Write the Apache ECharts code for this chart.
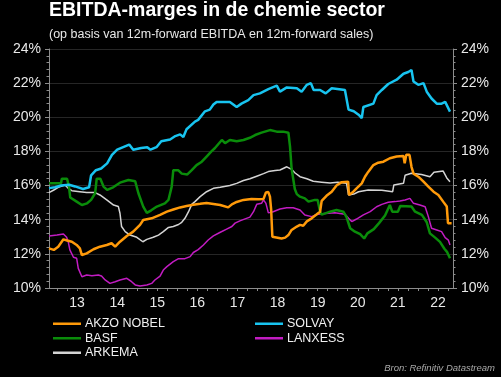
<!DOCTYPE html>
<html><head><meta charset="utf-8">
<script src="https://cdn.jsdelivr.net/npm/echarts@6/dist/echarts.min.js"></script>
<style>html,body{margin:0;padding:0;background:#000;}#c{width:501px;height:377px;}</style>
</head><body><div id="c"></div>
<script>
const yearLabels = ['13','14','15','16','17','18','19','20','21','22'];
const yTicks = [10,12,14,16,18,20,22,24];

const akzo = [[2012.80,12.32],[2012.92,12.23],[2013.03,12.42],[2013.16,12.85],[2013.25,12.78],[2013.37,12.71],[2013.49,12.52],[2013.57,12.32],[2013.62,11.93],[2013.74,12.03],[2013.91,12.27],[2014.07,12.42],[2014.24,12.52],[2014.36,12.62],[2014.45,12.42],[2014.57,12.71],[2014.74,13.05],[2014.90,13.3],[2015.07,13.7],[2015.15,13.98],[2015.36,14.08],[2015.57,14.28],[2015.74,14.47],[2015.90,14.6],[2016.07,14.72],[2016.23,14.8],[2016.40,14.88],[2016.57,14.93],[2016.73,14.98],[2016.90,14.92],[2017.07,14.86],[2017.27,14.72],[2017.36,14.9],[2017.48,15.04],[2017.65,15.16],[2017.85,15.22],[2018.02,15.2],[2018.15,15.22],[2018.21,15.6],[2018.27,15.62],[2018.31,15.35],[2018.34,14.6],[2018.37,13.0],[2018.40,12.9],[2018.60,12.9],[2018.69,12.95],[2018.77,13.1],[2018.85,13.4],[2018.98,13.6],[2019.06,13.7],[2019.14,13.65],[2019.23,13.9],[2019.35,14.08],[2019.47,14.3],[2019.56,14.47],[2019.60,15.1],[2019.72,15.4],[2019.85,15.64],[2019.97,16.0],[2020.10,16.2],[2020.26,16.23],[2020.28,15.45],[2020.39,15.64],[2020.47,15.84],[2020.60,16.13],[2020.68,16.52],[2020.76,16.8],[2020.89,17.2],[2021.01,17.34],[2021.14,17.4],[2021.30,17.6],[2021.47,17.7],[2021.64,17.73],[2021.67,17.3],[2021.71,17.8],[2021.79,17.8],[2021.84,17.1],[2021.89,16.7],[2022.01,16.52],[2022.14,16.23],[2022.26,15.94],[2022.39,15.64],[2022.51,15.45],[2022.63,15.06],[2022.72,14.77],[2022.75,13.8],[2022.84,13.8]];

const solvay = [[2012.80,15.85],[2012.95,15.9],[2013.10,16.0],[2013.30,16.05],[2013.45,15.95],[2013.65,15.8],[2013.80,15.9],[2013.85,16.6],[2013.97,16.9],[2014.10,17.0],[2014.25,17.3],[2014.37,17.8],[2014.50,18.1],[2014.65,18.25],[2014.80,18.4],[2014.90,18.1],[2015.10,18.2],[2015.25,18.25],[2015.33,18.1],[2015.48,18.25],[2015.60,18.6],[2015.82,18.7],[2015.95,18.9],[2016.07,19.0],[2016.15,18.85],[2016.23,19.3],[2016.44,19.75],[2016.52,19.85],[2016.69,20.35],[2016.81,20.45],[2016.90,20.75],[2016.98,20.9],[2017.31,20.9],[2017.48,20.6],[2017.60,20.8],[2017.77,21.0],[2017.90,21.3],[2018.06,21.4],[2018.27,21.65],[2018.48,21.85],[2018.56,21.5],[2018.73,21.75],[2018.98,21.7],[2019.10,21.5],[2019.23,21.9],[2019.33,22.0],[2019.40,21.6],[2019.56,21.6],[2019.70,21.4],[2019.85,21.7],[2020.18,21.6],[2020.27,20.45],[2020.40,20.35],[2020.52,20.15],[2020.60,19.95],[2020.64,20.6],[2020.89,20.8],[2020.97,21.3],[2021.10,21.6],[2021.26,21.95],[2021.47,22.2],[2021.64,22.55],[2021.76,22.65],[2021.84,22.77],[2021.89,22.1],[2022.01,21.9],[2022.14,22.0],[2022.22,21.5],[2022.34,21.1],[2022.47,20.8],[2022.59,20.8],[2022.68,20.9],[2022.80,20.33]];

const basf = [[2012.80,16.13],[2013.10,16.13],[2013.12,16.4],[2013.25,16.4],[2013.30,15.9],[2013.33,15.3],[2013.49,15.06],[2013.62,14.86],[2013.75,14.96],[2013.85,15.16],[2013.95,15.55],[2013.99,16.4],[2014.08,16.4],[2014.16,15.94],[2014.25,15.75],[2014.40,15.9],[2014.57,16.17],[2014.78,16.33],[2014.95,16.25],[2015.03,15.55],[2015.15,14.77],[2015.24,14.4],[2015.35,14.55],[2015.49,14.77],[2015.69,14.96],[2015.78,15.16],[2015.86,15.94],[2015.90,16.9],[2016.02,16.9],[2016.11,16.7],[2016.25,16.65],[2016.36,16.9],[2016.48,17.2],[2016.61,17.4],[2016.73,17.7],[2016.85,18.0],[2016.94,18.2],[2017.11,18.67],[2017.19,18.48],[2017.31,18.67],[2017.48,18.6],[2017.65,18.67],[2017.81,18.8],[2017.94,18.96],[2018.10,19.1],[2018.31,19.25],[2018.48,19.16],[2018.64,19.16],[2018.77,19.1],[2018.81,18.3],[2018.85,17.0],[2018.93,15.8],[2018.98,15.5],[2019.06,15.35],[2019.18,15.25],[2019.27,15.06],[2019.43,15.16],[2019.50,15.16],[2019.56,14.47],[2019.60,14.3],[2019.81,14.47],[2019.97,14.57],[2020.14,14.47],[2020.22,14.15],[2020.31,13.5],[2020.43,13.3],[2020.56,13.15],[2020.66,12.9],[2020.74,13.2],[2020.90,13.45],[2021.03,13.8],[2021.18,14.25],[2021.30,14.86],[2021.36,14.47],[2021.50,14.47],[2021.56,14.8],[2021.84,14.77],[2021.93,14.47],[2022.10,14.28],[2022.22,13.85],[2022.30,13.2],[2022.43,12.95],[2022.55,12.7],[2022.66,12.3],[2022.73,12.1],[2022.80,11.74]];

const lanxess = [[2012.80,13.05],[2013.00,13.1],[2013.16,13.16],[2013.24,12.97],[2013.28,12.7],[2013.32,12.23],[2013.41,11.8],[2013.49,11.74],[2013.53,11.15],[2013.62,10.66],[2013.74,10.76],[2013.87,10.72],[2014.03,10.76],[2014.11,10.7],[2014.20,10.47],[2014.32,10.27],[2014.45,10.37],[2014.57,10.47],[2014.74,10.57],[2014.86,10.37],[2014.95,10.18],[2015.07,10.12],[2015.24,10.18],[2015.36,10.27],[2015.44,10.47],[2015.57,10.7],[2015.65,11.05],[2015.74,11.25],[2015.90,11.54],[2016.03,11.72],[2016.19,11.72],[2016.32,11.84],[2016.40,12.08],[2016.52,12.25],[2016.65,12.52],[2016.77,12.81],[2016.90,13.05],[2017.06,13.25],[2017.23,13.45],[2017.36,13.6],[2017.44,13.8],[2017.56,13.93],[2017.69,14.05],[2017.81,14.15],[2017.90,14.47],[2017.98,14.9],[2018.10,14.96],[2018.15,15.16],[2018.21,14.96],[2018.27,14.4],[2018.39,14.47],[2018.56,14.63],[2018.73,14.7],[2018.89,14.7],[2019.06,14.57],[2019.18,14.28],[2019.35,14.18],[2019.47,14.3],[2019.68,14.37],[2019.93,14.41],[2020.18,14.32],[2020.27,14.08],[2020.35,13.89],[2020.47,14.04],[2020.64,14.28],[2020.81,14.47],[2020.97,14.76],[2021.10,14.9],[2021.26,15.02],[2021.43,15.06],[2021.55,15.1],[2021.68,15.16],[2021.80,15.25],[2021.89,14.96],[2022.05,14.86],[2022.18,14.76],[2022.26,14.18],[2022.34,13.5],[2022.47,13.4],[2022.59,13.3],[2022.68,12.95],[2022.76,12.8],[2022.80,12.52]];

const arkema = [[2012.80,15.59],[2012.92,15.74],[2013.03,15.9],[2013.20,16.03],[2013.28,15.84],[2013.37,15.7],[2013.57,15.64],[2013.74,15.59],[2013.95,15.59],[2014.07,15.45],[2014.24,15.16],[2014.41,14.86],[2014.53,14.77],[2014.57,14.38],[2014.61,13.6],[2014.70,13.3],[2014.82,13.1],[2014.99,12.97],[2015.14,12.71],[2015.24,12.85],[2015.40,12.97],[2015.53,13.1],[2015.65,13.3],[2015.78,13.55],[2015.90,13.6],[2016.03,13.72],[2016.11,13.85],[2016.19,14.08],[2016.28,14.47],[2016.36,14.9],[2016.44,15.06],[2016.57,15.35],[2016.73,15.64],[2016.90,15.84],[2017.07,15.9],[2017.31,16.0],[2017.48,16.13],[2017.65,16.3],[2017.81,16.4],[2017.98,16.55],[2018.15,16.7],[2018.27,16.82],[2018.44,16.88],[2018.56,16.91],[2018.64,17.0],[2018.73,17.1],[2018.85,16.95],[2018.93,16.75],[2019.06,16.52],[2019.23,16.4],[2019.39,16.25],[2019.60,16.2],[2019.81,16.15],[2020.00,16.2],[2020.22,16.13],[2020.27,15.45],[2020.40,15.5],[2020.52,15.64],[2020.76,15.74],[2021.10,15.72],[2021.37,15.64],[2021.40,16.04],[2021.64,16.13],[2021.68,16.6],[2021.84,16.72],[2022.09,16.65],[2022.30,16.52],[2022.40,16.78],[2022.63,16.85],[2022.72,16.45],[2022.80,16.23]];

const seriesNames = ['AKZO NOBEL','SOLVAY','BASF','LANXESS','ARKEMA'];

const FONT = 'Liberation Sans, Arial, sans-serif';
const firstYear = 2013;
const labelPos = yearLabels.map((s, i) => firstYear + i + 0.5);
const tickPos = [];
for (let y = 2013; y <= 2022.76; y += 0.25) tickPos.push(+y.toFixed(2));

const chart = echarts.init(document.getElementById('c'), null, {renderer: 'canvas'});
const yAxisBase = (pos) => ({
  type: 'value', position: pos, min: 10, max: 24, interval: 2,
  axisLine: {show: true, lineStyle: {color: '#8c8c8c', width: 1}},
  axisTick: {show: true, length: 4, lineStyle: {color: '#8c8c8c'}},
  minorTick: {show: true, splitNumber: 5, length: 2.5, lineStyle: {color: '#8c8c8c'}},
  splitLine: {show: pos === 'left', lineStyle: {color: '#262626', width: 1}},
  axisLabel: {color: '#e8e8e8', fontSize: 14, fontFamily: FONT, margin: 8, formatter: '{value}%'}
});
const mk = (name, data, color, width) => ({
  name, type: 'line', data, showSymbol: false, symbol: 'none', xAxisIndex: 0, yAxisIndex: 0,
  lineStyle: {color, width}, itemStyle: {color}, animation: false, z: 3
});
const legendText = {color: '#f0f0f0', fontSize: 12.5, fontFamily: FONT, lineHeight: 13.5, padding: [0,0,0,-1]};
chart.setOption({
  backgroundColor: '#000',
  animation: false,
  grid: {left: 49, right: 48, top: 49, bottom: 89},
  xAxis: {
    type: 'value', min: 2012.8, max: 2022.875,
    axisLine: {show: true, onZero: false, lineStyle: {color: '#8c8c8c'}},
    axisTick: {show: true, length: 3, customValues: tickPos, lineStyle: {color: '#8c8c8c'}},
    splitLine: {show: false},
    axisLabel: {color: '#e8e8e8', fontSize: 14, fontFamily: FONT, margin: 8,
      customValues: labelPos,
      formatter: (v) => yearLabels[Math.floor(v) - firstYear]}
  },
  yAxis: [yAxisBase('left'), yAxisBase('right')],
  legend: [
    {data: ['AKZO NOBEL','BASF','ARKEMA'], orient: 'vertical', left: 48, top: 312,
     icon: 'rect', itemWidth: 28, itemHeight: 2.5, itemGap: 1, selectedMode: false, textStyle: legendText},
    {data: ['SOLVAY','LANXESS'], orient: 'vertical', left: 250, top: 312,
     icon: 'rect', itemWidth: 28, itemHeight: 2.5, itemGap: 1, selectedMode: false, textStyle: legendText}
  ],
  graphic: [
    {type: 'text', left: 49, top: 1, style: {text: 'EBITDA-marges in de chemie sector', fill: '#ffffff',
      font: 'bold 19.5px ' + FONT}},
    {type: 'text', left: 49, top: 28, style: {text: '(op basis van 12m-forward EBITDA en 12m-forward sales)', fill: '#e8e8e8',
      font: '12.5px ' + FONT}},
    {type: 'text', right: 6, top: 363, style: {text: 'Bron: Refinitiv Datastream', fill: '#a8a8a8',
      font: 'italic 9.5px ' + FONT}}
  ],
  series: [
    mk('ARKEMA', arkema, '#d4d4d4', 1.5),
    mk('LANXESS', lanxess, '#c21cc2', 1.5),
    mk('BASF', basf, '#0a8c0a', 2.5),
    mk('AKZO NOBEL', akzo, '#ff9a0a', 2.5),
    mk('SOLVAY', solvay, '#18c4f0', 2.5)
  ]
});
</script></body></html>
